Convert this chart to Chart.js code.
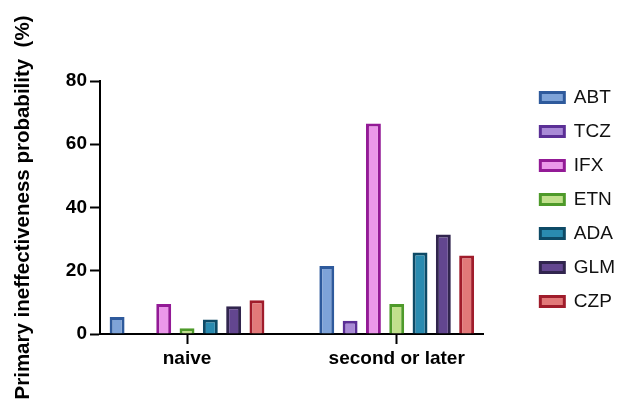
<!DOCTYPE html>
<html>
<head>
<meta charset="utf-8">
<script src="https://cdn.jsdelivr.net/npm/chart.js@4/dist/chart.umd.min.js"></script>
<style>
  html, body { margin: 0; padding: 0; background: #fff; }
  #conteneur { width: 625px; height: 399px; }
</style>
</head>
<body>
<div id="conteneur"><canvas id="graphique" width="625" height="399"></canvas></div>
<script>
const groupes = ['naive', 'second or later'];
const medicaments = ['ABT', 'TCZ', 'IFX', 'ETN', 'ADA', 'GLM', 'CZP'];
const valeursNaive = [5.4, 0, 9.5, 1.8, 4.6, 8.8, 10.7];
const valeursSecondeLigne = [21.5, 4.2, 66.6, 9.5, 25.8, 31.5, 24.8];

const couleursBordure = ['#2e5a9c', '#5b2f96', '#931a96', '#4e9a2a', '#0d4a66', '#31254e', '#a01c2b'];
const couleursFond = ['#7ea3d8', '#a98ad6', '#eb98ea', '#c1e08c', '#2a8bb0', '#634690', '#e27979'];

const police = 'Arial, "Liberation Sans", Helvetica, sans-serif';
Chart.defaults.font.family = police;
Chart.defaults.color = '#000';

const series = [valeursNaive, valeursSecondeLigne];

const jeuxDeDonnees = medicaments.map((nom, i) => ({
  label: nom,
  data: series.map((valeurs, g) => ({ x: g, y: valeurs[i] })),
  backgroundColor: couleursFond[i],
  borderColor: couleursBordure[i],
  borderWidth: 3,
  categoryPercentage: 0.778,
  barPercentage: 0.64,
}));

// axes vides qui ne servent qu'a reserver de la place
const axeVide = (axe, position, taille) => ({
  axis: axe,
  position,
  ticks: { display: false },
  grid: { display: false },
  border: { display: false },
  afterFit: (echelle) => {
    if (axe === 'x') echelle.height = taille;
    else echelle.width = taille;
  },
});

/* eslint-disable no-new */
new Chart(document.getElementById('graphique'), {
  type: 'bar',
  data: { datasets: jeuxDeDonnees },
  options: {
    responsive: false,
    animation: false,
    layout: { padding: 0 },
    plugins: {
      tooltip: { enabled: false },
      legend: {
        position: 'right',
        labels: {
          boxWidth: 24,
          boxHeight: 10,
          padding: 15,
          color: '#111',
          font: { size: 19 },
        },
      },
    },
    scales: {
      x: {
        type: 'linear',
        min: -0.415,
        max: 1.413,
        offset: false,
        z: 1,
        afterBuildTicks: (axe) => { axe.ticks = groupes.map((g, i) => ({ value: i })); },
        afterFit: (axe) => { axe.height = 65; },
        ticks: {
          callback: (valeur) => groupes[valeur],
          autoSkip: false,
          maxRotation: 0,
          padding: 3,
          font: { size: 19, weight: 'bold' },
        },
        grid: { offset: false, drawOnChartArea: false, tickLength: 10, tickWidth: 2, color: '#000' },
        border: { color: '#000', width: 2 },
      },
      y: {
        min: 0,
        max: 80,
        z: 1,
        afterFit: (axe) => { axe.width = 100; },
        ticks: {
          stepSize: 20,
          padding: 3,
          font: { size: 19, weight: 'bold' },
        },
        grid: { drawOnChartArea: false, tickLength: 10, tickWidth: 2, color: '#000' },
        border: { color: '#000', width: 2 },
        title: {
          display: true,
          text: 'Primary ineffectiveness probability  (%)',
          font: { size: 20.5, weight: 'bold' },
          padding: { top: 11, bottom: 0 },
        },
      },
      haut: axeVide('x', 'top', 81),
      ecart: axeVide('y', 'right', 42),
    },
  },
});
/* eslint-enable no-new */
</script>
</body>
</html>
